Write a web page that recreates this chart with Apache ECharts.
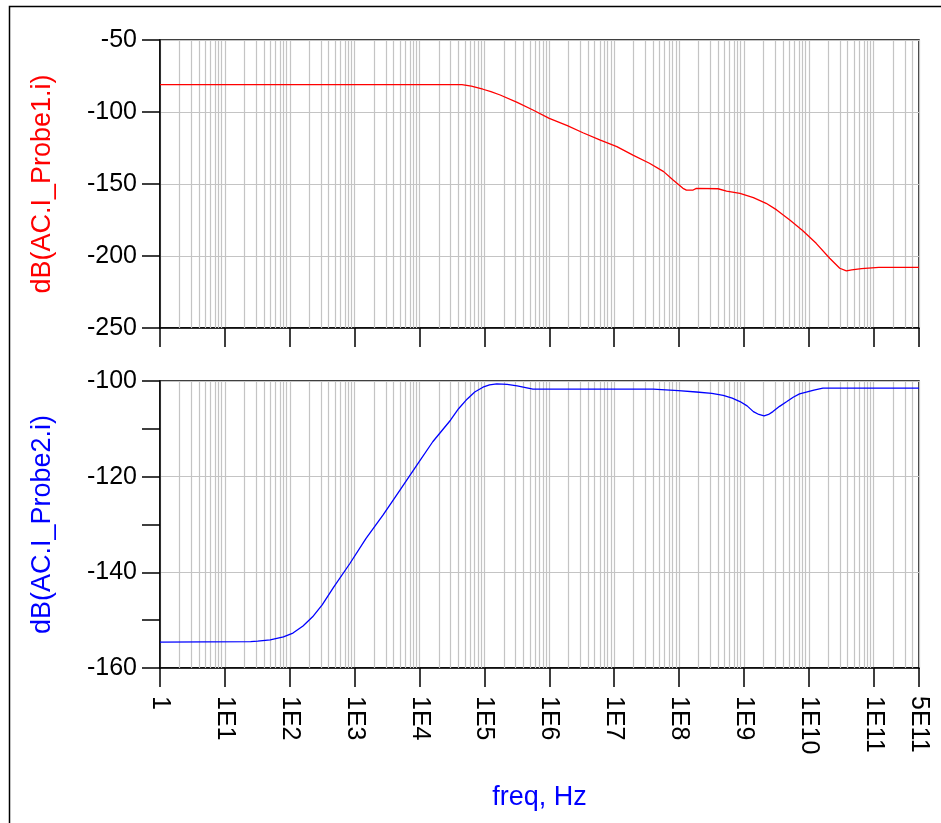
<!DOCTYPE html>
<html><head><meta charset="utf-8">
<script src="https://cdn.jsdelivr.net/npm/echarts@6/dist/echarts.min.js"></script>
<style>html,body{margin:0;padding:0;background:#fff}#c{width:941px;height:823px}</style>
</head><body><div id="c"></div>
<script>
// ---- data (frequency in Hz, level in dB) ----
const probe1Freq = [1, 4.5e4, 6.3e4, 9.5e4, 1.26e5, 1.75e5, 3.2e5, 5.6e5, 1.0e6, 1.9e6, 3.3e6, 6.0e6, 1.1e7, 1.95e7, 3.5e7, 5.8e7, 8.1e7, 1.15e8, 1.3e8, 1.65e8, 1.85e8, 4.0e8, 5.4e8, 8.7e8, 1.4e9, 2.2e9, 3.2e9, 5.1e9, 8.1e9, 1.3e10, 2.1e10, 3.0e10, 3.8e10, 4.6e10, 6.5e10, 1.2e11, 5e11];
const probe1dB   = [-81, -81, -82, -84.2, -85.9, -88.2, -93.3, -98.6, -104.4, -109.5, -114.4, -119.4, -124, -129.9, -135.6, -141.4, -147.2, -153, -154.2, -154.2, -153, -153.3, -154.9, -156.5, -159.5, -163.4, -168, -175, -182.4, -191.2, -201.6, -208.5, -210.4, -209.7, -208.8, -207.9, -207.9];
const probe2Freq = [1, 25, 32, 50, 80, 112, 160, 225, 316, 470, 850, 1.5e3, 2.75e3, 5.0e3, 9.1e3, 1.6e4, 3.0e4, 4.0e4, 5.4e4, 7.1e4, 9.5e4, 1.2e5, 1.55e5, 2.24e5, 3.2e5, 5.6e5, 4.0e7, 9.8e7, 1.85e8, 3.2e8, 4.8e8, 6.6e8, 8.7e8, 1.12e9, 1.4e9, 1.7e9, 2.05e9, 2.4e9, 2.8e9, 3.55e9, 4.6e9, 5.75e9, 7.2e9, 1.2e10, 1.65e10, 5e11];
const probe2dB   = [-154.6, -154.5, -154.4, -154.1, -153.5, -152.7, -151.2, -149.3, -146.8, -143.2, -138.1, -132.9, -128.0, -122.8, -117.6, -112.7, -108.2, -105.8, -103.8, -102.3, -101.3, -100.8, -100.6, -100.7, -101.0, -101.7, -101.7, -102.0, -102.3, -102.6, -103.0, -103.6, -104.3, -105.2, -106.4, -107.0, -107.3, -107.0, -106.4, -105.3, -104.3, -103.4, -102.7, -101.9, -101.5, -101.5];
const xTickLabels = ['1','1E1','1E2','1E3','1E4','1E5','1E6','1E7','1E8','1E9','1E10','1E11'];
const xEndLabel = '5E11';
const freqMin = 1, freqMax = 5e11;
const topYTicks = [-250, -200, -150, -100, -50];
const botYTicks = [-160, -140, -120, -100];
const topYName = 'dB(AC.I_Probe1.i)';
const botYName = 'dB(AC.I_Probe2.i)';
const xName = 'freq, Hz';

// ---- helpers ----
const lg = Math.log10;
const xMin = lg(freqMin), xMax = lg(freqMax);
const toPts = (f, d) => f.map((v, i) => [lg(v), d[i]]);
const minorPos = [];
for (let n = 0; n <= 11; n++) for (let k = 2; k <= 9; k++) {
  const p = lg(k * Math.pow(10, n));
  if (p < xMax - 1e-6) minorPos.push(p);
}
const FONT = 'Liberation Sans, Arial, sans-serif';
const GRID = '#c4c4c4';
const xLabelFmt = v => Math.abs(v - xMax) < 1e-6 ? xEndLabel : (xTickLabels[Math.round(v)] || '');

function xAxisCfg(idx, showLabels) {
  return {
    type: 'value', gridIndex: idx, min: xMin, max: xMax, interval: 1,
    axisLine: { show: true, onZero: false, lineStyle: { color: '#000', width: 1.5 } },
    axisTick: { show: true, inside: false, length: 19, lineStyle: { color: '#000', width: 1.5 } },
    splitLine: { show: true, lineStyle: { color: GRID, width: 1.2 } },
    axisLabel: showLabels ? { show: true, rotate: -90, margin: 28, color: '#000', fontSize: 25, fontFamily: FONT, formatter: xLabelFmt, showMinLabel: true, showMaxLabel: true } : { show: false },
    name: showLabels ? xName : '', nameLocation: 'middle', nameGap: 116,
    nameTextStyle: { color: '#0000ff', fontSize: 27, fontFamily: FONT }
  };
}
function gridSeries(idx) {
  return {
    type: 'line', xAxisIndex: idx, yAxisIndex: idx, data: [], z: 1, silent: true,
    markLine: { silent: true, symbol: 'none', animation: false, label: { show: false },
      lineStyle: { color: GRID, width: 1.2, type: 'solid' },
      emphasis: { disabled: true },
      data: minorPos.map(p => ({ xAxis: p })) }
  };
}

const chart = echarts.init(document.getElementById('c'), null, { renderer: 'canvas' });
chart.setOption({
  animation: false,
  backgroundColor: '#fff',
  graphic: [{ type: 'rect', shape: { x: 9.5, y: 6.5, width: 1000, height: 1000 }, style: { fill: 'none', stroke: '#000', lineWidth: 1.5 }, z: 100, silent: true }],
  grid: [
    { left: 160, top: 40, width: 759, height: 288, show: true, borderColor: '#000', borderWidth: 1.5, backgroundColor: 'transparent' },
    { left: 160, top: 381, width: 759, height: 287, show: true, borderColor: '#000', borderWidth: 1.5, backgroundColor: 'transparent' }
  ],
  xAxis: [xAxisCfg(0, false), xAxisCfg(1, true)],
  yAxis: [
    { type: 'value', gridIndex: 0, min: topYTicks[0], max: topYTicks[topYTicks.length - 1], interval: topYTicks[1] - topYTicks[0],
      axisLine: { show: true, lineStyle: { color: '#000', width: 1.5 } },
      axisTick: { show: true, length: 18, lineStyle: { color: '#000', width: 1.5 } },
      splitLine: { show: true, lineStyle: { color: GRID, width: 1.2 } },
      axisLabel: { margin: 23, color: '#000', fontSize: 25, fontFamily: FONT },
      name: topYName, nameLocation: 'middle', nameGap: 104,
      nameTextStyle: { color: '#ff0000', fontSize: 27, fontFamily: FONT } },
    { type: 'value', gridIndex: 1, min: botYTicks[0], max: botYTicks[botYTicks.length - 1], interval: botYTicks[1] - botYTicks[0],
      axisLine: { show: true, lineStyle: { color: '#000', width: 1.5 } },
      axisTick: { show: true, length: 18, lineStyle: { color: '#000', width: 1.5 } },
      minorTick: { show: true, splitNumber: 2, length: 18, lineStyle: { color: '#000', width: 1.5 } },
      splitLine: { show: true, lineStyle: { color: GRID, width: 1.2 } },
      axisLabel: { margin: 23, color: '#000', fontSize: 25, fontFamily: FONT },
      name: botYName, nameLocation: 'middle', nameGap: 104,
      nameTextStyle: { color: '#0000ff', fontSize: 27, fontFamily: FONT } }
  ],
  series: [
    gridSeries(0), gridSeries(1),
    { type: 'line', xAxisIndex: 0, yAxisIndex: 0, data: toPts(probe1Freq, probe1dB), showSymbol: false, z: 5,
      lineStyle: { color: '#ff0000', width: 1.3 }, smooth: false, silent: true },
    { type: 'line', xAxisIndex: 1, yAxisIndex: 1, data: toPts(probe2Freq, probe2dB), showSymbol: false, z: 5,
      lineStyle: { color: '#0000ff', width: 1.3 }, smooth: false, silent: true }
  ]
});
</script></body></html>
